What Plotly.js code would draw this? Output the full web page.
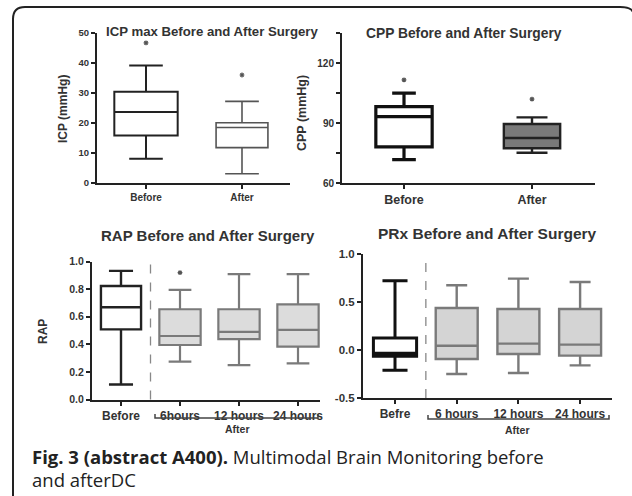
<!DOCTYPE html>
<html><head><meta charset="utf-8">
<script src="https://cdn.plot.ly/plotly-3.0.1.min.js"></script>
<style>html,body{margin:0;padding:0;background:#fff}#chart{width:632px;height:496px}</style>
</head><body><div id="chart"></div>
<script>
// ---------------- DATA ----------------
const icpCategories = ['Before', 'After'];
const icpQ1 = [15.8, 11.8];
const icpMedian = [23.7, 18.5];
const icpQ3 = [30.4, 20.1];
const icpLow = [8.1, 3.1];
const icpHigh = [39.2, 27.2];
const icpStar = [46.7, 36.0];

const cppCategories = ['Before', 'After'];
const cppQ1 = [78.1, 77.4];
const cppMedian = [93.2, 82.5];
const cppQ3 = [98.2, 89.5];
const cppLow = [71.7, 75.1];
const cppHigh = [104.9, 92.8];
const cppStar = [111.6, 101.9];

const rapCategories = ['Before', '6hours', '12 hours', '24 hours'];
const rapQ1 = [0.508, 0.395, 0.438, 0.383];
const rapMedian = [0.668, 0.46, 0.49, 0.504];
const rapQ3 = [0.823, 0.654, 0.654, 0.69];
const rapLow = [0.109, 0.274, 0.249, 0.262];
const rapHigh = [0.932, 0.794, 0.908, 0.908];
const rapStar = [1.024, 0.92, null, null];

const prxCategories = ['Befre', '6 hours', '12 hours', '24 hours'];
const prxQ1 = [-0.066, -0.094, -0.042, -0.059];
const prxMedian = [-0.035, 0.045, 0.066, 0.056];
const prxQ3 = [0.125, 0.437, 0.427, 0.427];
const prxLow = [-0.212, -0.25, -0.24, -0.16];
const prxHigh = [0.722, 0.674, 0.743, 0.708];

const icpTicks = [0, 10, 20, 30, 40, 50];
const cppTicks = [60, 75, 90, 105, 120, 135];
const cppTickText = ['60', '', '90', '', '120', ''];
const rapTicks = [0, 0.2, 0.4, 0.6, 0.8, 1.0];
const rapTickText = ['0.0', '0.2', '0.4', '0.6', '0.8', '1.0'];
const prxTicks = [-0.5, 0, 0.5, 1.0];
const prxTickText = ['-0.5', '0.0', '0.5', '1.0'];

// ---------------- LAYOUT HELPERS ----------------
const W = 632, H = 496;
const px = v => v / W;
const py = v => 1 - v / H;
const FONT = 'Liberation Sans, Arial, sans-serif';
const CAPFONT = 'Open Sans, Noto Sans, sans-serif';
const INK = '#222';

function boxes(cats, q1, med, q3, lo, hi, xa, ya, styles) {
  return cats.map((c, i) => ({
    type: 'box', x: [c], q1: [q1[i]], median: [med[i]], q3: [q3[i]],
    lowerfence: [lo[i]], upperfence: [hi[i]],
    xaxis: xa, yaxis: ya, boxpoints: false,
    width: styles[i].w, whiskerwidth: styles[i].ww,
    line: { color: styles[i].c, width: styles[i].lw },
    fillcolor: styles[i].f, showlegend: false, hoverinfo: 'skip'
  }));
}
function stars(cats, vals, xa, ya) {
  const xs = [], ys = [];
  cats.forEach((c, i) => { if (vals[i] != null) { xs.push(c); ys.push(vals[i]); } });
  return { type: 'scatter', mode: 'markers', x: xs, y: ys, xaxis: xa, yaxis: ya,
    marker: { symbol: 'asterisk-open', size: 4, color: '#555', line: { color: '#555', width: 1.2 } },
    showlegend: false, hoverinfo: 'skip' };
}

const blackICP = { w: 0.66, ww: 0.53, c: INK, lw: 2, f: '#ffffff' };
const grayICP = { w: 0.54, ww: 0.65, c: '#555', lw: 1.6, f: '#ffffff' };
const blackCPP = { w: 0.44, ww: 0.42, c: '#111', lw: 3.2, f: '#ffffff' };
const grayCPP = { w: 0.44, ww: 0.55, c: '#222', lw: 2.4, f: '#7a7a7a' };
const blackRAP = { w: 0.68, ww: 0.6, c: INK, lw: 2.4, f: '#ffffff' };
const grayRAP = { w: 0.7, ww: 0.55, c: '#7a7a7a', lw: 2.2, f: '#dcdcdc' };
const blackPRX = { w: 0.7, ww: 0.58, c: '#111', lw: 3, f: '#ffffff' };
const grayPRX = { w: 0.68, ww: 0.5, c: '#7a7a7a', lw: 2.4, f: '#d4d4d4' };

const traces = [
  ...boxes(icpCategories, icpQ1, icpMedian, icpQ3, icpLow, icpHigh, 'x', 'y', [blackICP, grayICP]),
  stars(icpCategories, icpStar, 'x', 'y'),
  ...boxes(cppCategories, cppQ1, cppMedian, cppQ3, cppLow, cppHigh, 'x2', 'y2', [blackCPP, grayCPP]),
  stars(cppCategories, cppStar, 'x2', 'y2'),
  ...boxes(rapCategories, rapQ1, rapMedian, rapQ3, rapLow, rapHigh, 'x3', 'y3', [blackRAP, grayRAP, grayRAP, grayRAP]),
  stars(rapCategories, rapStar, 'x3', 'y3'),
  ...boxes(prxCategories, prxQ1, prxMedian, prxQ3, prxLow, prxHigh, 'x4', 'y4', [blackPRX, grayPRX, grayPRX, grayPRX])
];

function baseAxis(size, lw) {
  return { showline: true, linecolor: INK, linewidth: lw || 2, ticks: 'outside', ticklen: 4,
    tickwidth: 2, tickcolor: INK, showgrid: false, zeroline: false, fixedrange: true,
    tickfont: { family: FONT, size: size, color: '#333', weight: 'bold' } };
}
function catAxis(cats, left, right, first, step, size, anchor) {
  return Object.assign(baseAxis(size), {
    type: 'category', categoryorder: 'array', categoryarray: cats,
    domain: [px(left), px(right)], anchor: anchor,
    range: [(left - first) / step, (right - first) / step]
  });
}
function valAxis(top, bottom, range, vals, text, size, anchor) {
  const a = Object.assign(baseAxis(size), {
    domain: [py(bottom), py(top)], range: range, anchor: anchor, tickvals: vals
  });
  if (text) a.ticktext = text;
  return a;
}

function ann(text, x, y, size, extra) {
  return Object.assign({ text: text, x: px(x), y: py(y), xref: 'paper', yref: 'paper',
    showarrow: false, xanchor: 'center', yanchor: 'middle',
    font: { family: FONT, size: size, color: '#333', weight: 'bold' } }, extra || {});
}

function bracket(x1, x2, yLine, yHook) {
  return { type: 'path', xref: 'paper', yref: 'paper',
    path: `M ${px(x1)},${py(yHook)} L ${px(x1)},${py(yLine)} L ${px(x2)},${py(yLine)} L ${px(x2)},${py(yHook)}`,
    line: { color: '#444', width: 1.5 } };
}

const layout = {
  width: W, height: H,
  margin: { l: 0, r: 0, t: 0, b: 0, pad: 0 },
  paper_bgcolor: '#ffffff', plot_bgcolor: 'rgba(0,0,0,0)',
  showlegend: false, boxmode: 'overlay',
  xaxis: catAxis(icpCategories, 97, 290, 146, 96, 10, 'y'),
  yaxis: valAxis(33, 183, [0, 50], icpTicks, null, 9.5, 'x'),
  xaxis2: catAxis(cppCategories, 342, 595, 404, 128, 12.5, 'y2'),
  yaxis2: valAxis(33, 183, [60, 135], cppTicks, cppTickText, 10, 'x2'),
  xaxis3: catAxis(rapCategories, 92, 320, 121, 59, 12, 'y3'),
  yaxis3: valAxis(261.5, 399.5, [0, 1], rapTicks, rapTickText, 10.5, 'x3'),
  xaxis4: catAxis(prxCategories, 363, 612, 395, 61.7, 12, 'y4'),
  yaxis4: valAxis(254, 398, [-0.5, 1], prxTicks, prxTickText, 11.5, 'x4'),
  shapes: [
    { type: 'path', xref: 'paper', yref: 'paper',
      path: `M ${px(13)},${py(500)} L ${px(13)},${py(19)} Q ${px(13)},${py(7)} ${px(25)},${py(7)} L ${px(620)},${py(7)} Q ${px(631)},${py(7)} ${px(633)},${py(12)}`,
      line: { color: '#222', width: 2 } },
    { type: 'line', xref: 'x3', yref: 'y3 domain', x0: 0.5, x1: 0.5, y0: 0, y1: 1,
      line: { color: '#888', width: 1.3, dash: 'dash' } },
    { type: 'line', xref: 'x4', yref: 'y4 domain', x0: 0.5, x1: 0.5, y0: 0, y1: 1,
      line: { color: '#888', width: 1.3, dash: 'dash' } },
    bracket(155, 318, 418, 414),
    bracket(428, 609, 419, 415)
  ],
  annotations: [
    ann('ICP max Before and After Surgery', 212, 32, 13.2),
    ann('CPP Before and After Surgery', 464, 33, 13.8),
    ann('RAP Before and After Surgery', 208, 235, 15),
    ann('PRx Before and After Surgery', 487, 233, 15.5),
    ann('ICP (mmHg)', 63, 109, 12, { textangle: -90 }),
    ann('CPP (mmHg)', 302, 113, 12.5, { textangle: -90 }),
    ann('RAP', 43, 332, 12, { textangle: -90 }),
    ann('After', 237, 429, 10.5),
    ann('After', 517, 430, 10.5),
    ann('<b>Fig. 3 (abstract A400).</b> Multimodal Brain Monitoring before', 30, 456, 18.5,
      { xanchor: 'left', font: { family: CAPFONT, size: 18.5, color: '#222' } }),
    ann('and afterDC', 30, 479, 18.5,
      { xanchor: 'left', font: { family: CAPFONT, size: 18.5, color: '#222' } })
  ]
};

Plotly.newPlot('chart', traces, layout, { staticPlot: true, displayModeBar: false });
</script>
</body></html>
